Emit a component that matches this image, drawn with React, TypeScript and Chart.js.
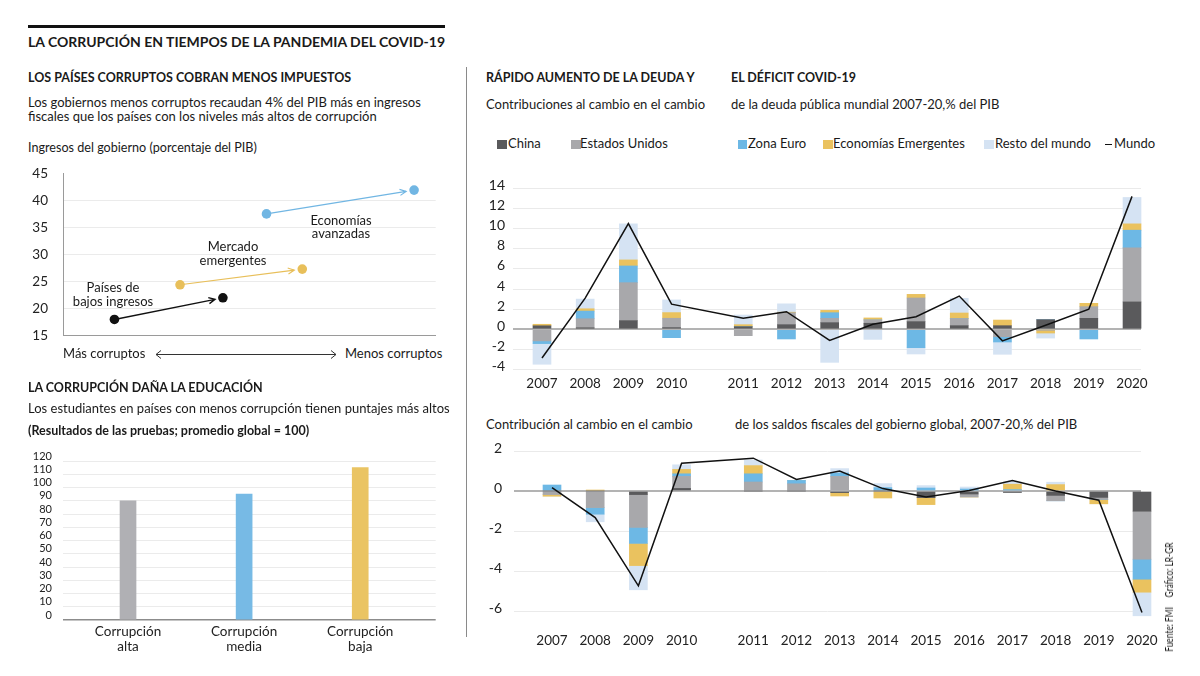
import React, { useEffect, useRef } from 'react';
import { Chart, registerables } from 'chart.js';
Chart.register(...registerables);

const FONT = 'Lato, "Open Sans", sans-serif';
const TXT = '#1a1a1a';

// ---------- Scatter: Ingresos del gobierno ----------
const lowIncomeX = [13.8, 42.9];
const lowIncomeY = [18.0, 22.0];
const emergingX = [31.4, 64.2];
const emergingY = [24.4, 27.3];
const advancedX = [54.6, 94.2];
const advancedY = [37.5, 41.9];
const scatterTicks = [15, 20, 25, 30, 35, 40, 45];

// ---------- Bars: educación ----------
const eduLabels = [['Corrupción', 'alta'], ['Corrupción', 'media'], ['Corrupción', 'baja']];
const eduScores = [90, 95, 115];

// ---------- Stacked: deuda / saldos fiscales ----------
const years = ['2007', '2008', '2009', '2010', '2011', '2012', '2013', '2014', '2015', '2016', '2017', '2018', '2019', '2020'];

const debtChina = [0.35, 0.15, 0.86, 0.17, 0.26, 0.46, 0.66, 0.6, 0.76, 0.36, 0.36, 0.96, 1.09, 2.72];
const debtUS = [-1.15, 0.9, 3.77, 0.93, -0.63, 1.19, 0.43, 0.33, 2.35, 0.7, -0.73, -0.07, 1.16, 5.36];
const debtEuro = [-0.27, 0.76, 1.66, -0.83, 0, -0.96, 0.56, 0, -1.82, 0, -0.53, 0, -0.96, 1.76];
const debtEM = [0.15, 0.23, 0.6, 0.56, 0.2, 0.05, 0.23, 0.2, 0.36, 0.56, 0.56, -0.3, 0.33, 0.63];
const debtRest = [-2.05, 0.96, 3.58, 1.26, 0.96, 0.83, -3.28, -1.0, -0.63, 1.46, -1.22, -0.5, 0, 2.62];
const debtWorld = [-2.85, 3.1, 10.5, 2.5, 1.1, 1.75, -1.1, 0.5, 1.25, 3.3, -1.15, 0.4, 2.0, 13.2];

const fiscChina = [0, 0, -0.18, 0.13, 0, 0, -0.08, 0, -0.33, -0.15, -0.07, -0.22, -0.32, -1.01];
const fiscUS = [-0.18, -0.83, -1.64, 0.6, 0.45, 0.36, 0.73, 0, 0, -0.15, 0, -0.27, -0.1, -2.4];
const fiscEuro = [0.3, -0.33, -0.8, 0.13, 0.41, 0.17, 0.17, 0.17, 0.15, 0.1, 0.07, 0, 0, -1.0];
const fiscEM = [-0.08, 0.04, -1.11, 0.22, 0.41, 0, -0.17, -0.35, -0.35, 0, 0.27, 0.32, -0.22, -0.65];
const fiscRest = [0, -0.38, -1.21, 0.23, 0.28, 0, 0.22, 0.2, 0.12, 0.1, 0.12, 0.12, 0, -1.18];
const fiscWorld = [0.17, -1.33, -4.74, 1.39, 1.64, 0.58, 1.0, 0.12, -0.3, 0.03, 0.53, 0.0, -0.46, -6.07];

const COL = {
  china: '#5a5a5c',
  us: '#a8a8ab',
  euro: '#6db8e5',
  em: '#eac25f',
  rest: '#d5e3f3',
  world: '#111111',
};

// layout: extra space (in slots) inserted between 2010 and 2011
const GAP_AFTER = 4;
const GAP_SIZE = 0.66;
const yearPos = years.map((_, i) => i + (i >= GAP_AFTER ? GAP_SIZE : 0));

function ChartCanvas({ left, top, width, height, make }: any) {
  const ref = useRef<HTMLCanvasElement>(null);
  useEffect(() => {
    const chart = new Chart(ref.current as HTMLCanvasElement, make());
    return () => chart.destroy();
  }, []);
  return (
    <canvas
      ref={ref}
      width={width}
      height={height}
      style={{ position: 'absolute', left, top, width, height }}
    />
  );
}

const fixY = (w: number) => (s: any) => {
  s.width = w;
  s.paddingTop = 0;
  s.paddingBottom = 0;
};
const fixX = (h: number) => (s: any) => {
  s.height = h;
  s.paddingLeft = 0;
  s.paddingRight = 0;
};

const arrowPlugin = {
  id: 'arrows',
  beforeDatasetsDraw(chart: any) {
    const ctx = chart.ctx;
    chart.data.datasets.forEach((ds: any, i: number) => {
      const meta = chart.getDatasetMeta(i);
      const a = meta.data[0];
      const b = meta.data[1];
      if (!a || !b) return;
      const dx = b.x - a.x;
      const dy = b.y - a.y;
      const len = Math.hypot(dx, dy);
      const ux = dx / len;
      const uy = dy / len;
      const ex = b.x - ux * 8;
      const ey = b.y - uy * 8;
      const ang = Math.atan2(dy, dx);
      const s = 7;
      ctx.save();
      ctx.strokeStyle = ds.backgroundColor;
      ctx.lineWidth = i === 0 ? 1.4 : 1.1;
      ctx.beginPath();
      ctx.moveTo(a.x, a.y);
      ctx.lineTo(ex, ey);
      ctx.moveTo(ex - s * Math.cos(ang - 0.45), ey - s * Math.sin(ang - 0.45));
      ctx.lineTo(ex, ey);
      ctx.lineTo(ex - s * Math.cos(ang + 0.45), ey - s * Math.sin(ang + 0.45));
      ctx.stroke();
      ctx.restore();
    });
  },
};

function scatterConfig(): any {
  const pts = (xs: number[], ys: number[]) => xs.map((x, i) => ({ x, y: ys[i] }));
  return {
    type: 'scatter',
    data: {
      datasets: [
        { label: 'Países de bajos ingresos', data: pts(lowIncomeX, lowIncomeY), backgroundColor: '#111111' },
        { label: 'Mercado emergentes', data: pts(emergingX, emergingY), backgroundColor: '#e8bf5a' },
        { label: 'Economías avanzadas', data: pts(advancedX, advancedY), backgroundColor: '#71b6e3' },
      ],
    },
    plugins: [arrowPlugin],
    options: {
      responsive: false,
      animation: false,
      layout: { autoPadding: false, padding: { left: 0, right: 9.3, top: 13.3, bottom: 0 } },
      elements: { point: { radius: 4.8, borderWidth: 0, hoverRadius: 4.8 } },
      plugins: { legend: { display: false }, tooltip: { enabled: false } },
      scales: {
        x: {
          type: 'linear', min: 0, max: 100, offset: false,
          afterFit: fixX(4.3),
          ticks: { display: false },
          grid: { display: false, drawTicks: false },
          border: { display: true, color: '#9a9a9a', width: 1 },
        },
        y: {
          min: 15, max: 45,
          afterFit: fixY(43),
          afterBuildTicks: (s: any) => { s.ticks = scatterTicks.map((v) => ({ value: v })); },
          ticks: { padding: 15, color: '#222', autoSkip: false, font: { family: FONT, size: 13.5 } },
          grid: {
            drawTicks: false,
            color: (c: any) => (c.tick && c.tick.value === 45 ? 'rgba(0,0,0,0)' : '#ebebeb'),
          },
          border: { display: true, color: '#9a9a9a', width: 1 },
        },
      },
    },
  };
}

function eduConfig(): any {
  return {
    type: 'bar',
    data: {
      datasets: [
        {
          label: 'Resultados',
          data: eduScores.map((v, i) => ({ x: i, y: v })),
          backgroundColor: ['#b0b0b4', '#77bae5', '#eac463'],
          barThickness: 16,
        },
      ],
    },
    options: {
      responsive: false,
      animation: false,
      layout: { autoPadding: false, padding: { left: 0, right: 9.3, top: 21, bottom: 0 } },
      plugins: { legend: { display: false }, tooltip: { enabled: false } },
      scales: {
        x: {
          type: 'linear', min: -0.56, max: 2.65, offset: false,
          afterBuildTicks: (s: any) => { s.ticks = eduScores.map((_, i) => ({ value: i })); },
          afterFit: fixX(40),
          ticks: {
            autoSkip: false, maxRotation: 0, padding: 5, color: '#222',
            font: { family: FONT, size: 13.5, lineHeight: 1.05 },
            callback: (_v: any, i: number) => eduLabels[i],
          },
          grid: { display: false, drawTicks: false },
          border: { display: false },
        },
        y: {
          min: 0, max: 120,
          afterFit: fixY(43),
          ticks: { stepSize: 10, autoSkip: false, padding: 11, labelOffset: -5, color: '#222', font: { family: FONT, size: 11 } },
          grid: {
            drawTicks: false,
            color: (c: any) => (c.tick && c.tick.value === 0 ? '#8c8c8c' : '#ebebeb'),
            lineWidth: (c: any) => (c.tick && c.tick.value === 0 ? 1.5 : 1),
          },
          border: { display: false },
        },
      },
    },
  };
}

function stackedConfig(o: any): any {
  const bar = (label: string, vals: number[], color: string) => ({
    type: 'bar',
    label,
    data: vals.map((v, i) => ({ x: yearPos[i], y: v })),
    backgroundColor: color,
    barThickness: 18,
    order: 1,
    clip: false,
  });
  return {
    type: 'bar',
    data: {
      datasets: [
        {
          type: 'line',
          label: 'Mundo',
          data: o.world.map((v: number, i: number) => ({ x: yearPos[i], y: v })),
          borderColor: COL.world,
          borderWidth: 1.5,
          pointRadius: 0,
          tension: 0,
          order: 0,
          clip: false,
        },
        bar('China', o.china, COL.china),
        bar('Estados Unidos', o.us, COL.us),
        bar('Zona Euro', o.euro, COL.euro),
        bar('Economías Emergentes', o.em, COL.em),
        bar('Resto del mundo', o.rest, COL.rest),
      ],
    },
    options: {
      responsive: false,
      animation: false,
      layout: { autoPadding: false, padding: { left: 0, right: o.padRight, top: o.padTop, bottom: 0 } },
      plugins: { legend: { display: false }, tooltip: { enabled: false } },
      scales: {
        x: {
          type: 'linear', min: o.xMin, max: o.xMax, stacked: true, offset: false,
          afterBuildTicks: (s: any) => { s.ticks = yearPos.map((v) => ({ value: v })); },
          afterFit: fixX(o.xAxisH),
          ticks: {
            autoSkip: false, maxRotation: 0, padding: o.xPad, color: '#222',
            font: { family: FONT, size: 13.5 },
            callback: (_v: any, i: number) => years[i],
          },
          grid: { display: false, drawTicks: false },
          border: { display: false },
        },
        y: {
          min: o.yMin, max: o.yMax, stacked: true,
          afterFit: fixY(o.yAxisW),
          ticks: { stepSize: 2, autoSkip: false, padding: o.yPad, labelOffset: o.yLabelOffset, color: '#222', font: { family: FONT, size: 14 } },
          grid: {
            drawTicks: false,
            color: (c: any) => (c.tick && c.tick.value === 0 ? '#b3b3b3' : '#eaeaea'),
            lineWidth: (c: any) => (c.tick && c.tick.value === 0 ? 2 : 1),
          },
          border: { display: false },
        },
      },
    },
  };
}

function T({ x, y, size = 13, weight = 400, children, family = FONT, center = false, color = TXT }: any) {
  return (
    <div
      style={{
        position: 'absolute',
        left: x,
        top: y - size * 0.63,
        fontSize: size,
        lineHeight: `${size * 1.2}px`,
        fontWeight: weight,
        fontFamily: family,
        color,
        whiteSpace: 'nowrap',
        transform: center ? 'translateX(-50%)' : undefined,
        textAlign: center ? 'center' : 'left',
      }}
    >
      {children}
    </div>
  );
}

function LegendSq({ x, color }: any) {
  return <div style={{ position: 'absolute', left: x, top: 139.5, width: 9.5, height: 9.5, background: color }} />;
}

export default function App() {
  return (
    <div style={{ position: 'absolute', left: 0, top: 0, width: 1200, height: 676, background: '#fff', overflow: 'hidden', fontFamily: FONT }}>
      <div style={{ position: 'absolute', left: 28, top: 24.5, width: 417, height: 3, background: '#111' }} />
      <T x={28} y={43} size={14} weight={700}>LA CORRUPCIÓN EN TIEMPOS DE LA PANDEMIA DEL COVID-19</T>

      <T x={28} y={78} size={12.5} weight={700}>LOS PAÍSES CORRUPTOS COBRAN MENOS IMPUESTOS</T>
      <T x={28} y={103} size={13}>Los gobiernos menos corruptos recaudan 4% del PIB más en ingresos</T>
      <T x={28} y={117} size={13}>fiscales que los países con los niveles más altos de corrupción</T>
      <T x={28} y={148} size={12.6}>Ingresos del gobierno (porcentaje del PIB)</T>

      <ChartCanvas left={20} top={160} width={425} height={180} make={scatterConfig} />

      <T x={113} y={288} size={13} center>Países de</T>
      <T x={113} y={302.5} size={13} center>bajos ingresos</T>
      <T x={233} y={246.7} size={13} center>Mercado</T>
      <T x={233} y={260.7} size={13} center>emergentes</T>
      <T x={341} y={220.7} size={13} center>Economías</T>
      <T x={341} y={234.5} size={13} center>avanzadas</T>

      <T x={63} y={354.5} size={13}>Más corruptos</T>
      <T x={345} y={354.5} size={13}>Menos corruptos</T>
      <svg style={{ position: 'absolute', left: 150, top: 345, width: 195, height: 20 }} width={195} height={20}>
        <path d="M6 9.5 L186 9.5 M11 5.5 L6 9.5 L11 13.5 M181 5.5 L186 9.5 L181 13.5" stroke="#333" strokeWidth={1} fill="none" />
      </svg>

      <T x={28} y={388} size={12.5} weight={700}>LA CORRUPCIÓN DAÑA LA EDUCACIÓN</T>
      <T x={28} y={409} size={13}>Los estudiantes en países con menos corrupción tienen puntajes más altos</T>
      <T x={28} y={431} size={12.5} weight={700}>(Resultados de las pruebas; promedio global = 100)</T>

      <ChartCanvas left={20} top={440} width={425} height={220} make={eduConfig} />

      <div style={{ position: 'absolute', left: 465.5, top: 67, width: 1, height: 570, background: '#8a8a8a' }} />

      <T x={486} y={78} size={12.5} weight={700}>RÁPIDO AUMENTO DE LA DEUDA Y</T>
      <T x={731} y={78} size={12.5} weight={700}>EL DÉFICIT COVID-19</T>
      <T x={486} y={105} size={13}>Contribuciones al cambio en el cambio</T>
      <T x={731} y={105} size={13}>de la deuda pública mundial 2007-20,% del PIB</T>

      <LegendSq x={497} color={COL.china} />
      <T x={508} y={144.5} size={13}>China</T>
      <LegendSq x={571} color={COL.us} />
      <T x={580} y={144.5} size={13}>Estados Unidos</T>
      <LegendSq x={737.5} color={COL.euro} />
      <T x={748} y={144.5} size={13}>Zona Euro</T>
      <LegendSq x={823} color={COL.em} />
      <T x={833} y={144.5} size={13}>Economías Emergentes</T>
      <LegendSq x={984} color={COL.rest} />
      <T x={995} y={144.5} size={13}>Resto del mundo</T>
      <div style={{ position: 'absolute', left: 1105, top: 143.5, width: 7, height: 1.6, background: '#111' }} />
      <T x={1114} y={144.5} size={13}>Mundo</T>

      <ChartCanvas
        left={470}
        top={170}
        width={700}
        height={225}
        make={() =>
          stackedConfig({
            china: debtChina, us: debtUS, euro: debtEuro, em: debtEM, rest: debtRest, world: debtWorld,
            yMin: -4, yMax: 14, xMin: -0.671, xMax: 13.868,
            padTop: 18.3, padRight: 29, xAxisH: 25.4, yAxisW: 43, yPad: 8, yLabelOffset: -3, xPad: 6.4,
          })
        }
      />

      <T x={486} y={425} size={13}>Contribución al cambio en el cambio</T>
      <T x={735} y={425} size={13}>de los saldos fiscales del gobierno global, 2007-20,% del PIB</T>

      <ChartCanvas
        left={470}
        top={435}
        width={700}
        height={225}
        make={() =>
          stackedConfig({
            china: fiscChina, us: fiscUS, euro: fiscEuro, em: fiscEM, rest: fiscRest, world: fiscWorld,
            yMin: -6, yMax: 2, xMin: -0.88, xMax: 13.637,
            padTop: 16, padRight: 29, xAxisH: 49, yAxisW: 44, yPad: 12, yLabelOffset: -3, xPad: 22,
          })
        }
      />

      <div
        style={{
          position: 'absolute', left: 1169, top: 596.5,
          transform: 'translate(-50%, -50%) rotate(-90deg) scaleX(0.8)',
          whiteSpace: 'nowrap', fontSize: 10.5, fontFamily: FONT, color: TXT, lineHeight: '12px',
        }}
      >
        Fuente: FMI<span style={{ marginLeft: 12 }}>Gráfico: LR-GR</span>
      </div>
    </div>
  );
}
